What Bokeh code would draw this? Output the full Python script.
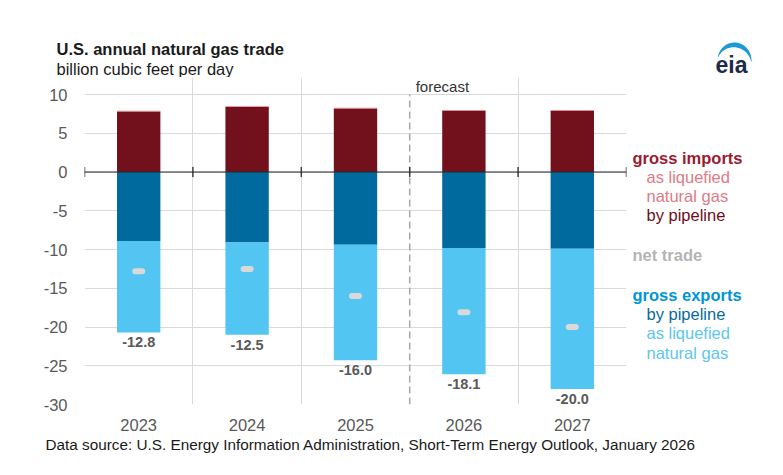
import numpy as np
from bokeh.plotting import figure
from bokeh.layouts import column, row
from bokeh.models import Range1d, FixedTicker, Span
from bokeh.embed import file_html
from bokeh.resources import INLINE
from bokeh.core.properties import value

# ---------------- data (billion cubic feet per day) ----------------
years = ["2023", "2024", "2025", "2026", "2027"]
imports_pipeline = [7.8, 8.4, 8.2, 7.9, 7.9]
imports_lng = [0.1, 0.1, 0.1, 0.1, 0.1]
exports_pipeline = [8.9, 9.1, 9.4, 9.8, 9.9]
exports_lng = [11.8, 11.9, 14.9, 16.3, 18.1]
y_ticks = [10, 5, 0, -5, -10, -15, -20, -25, -30]
forecast_start = "2026"

title = "U.S. annual natural gas trade"
subtitle = "billion cubic feet per day"
source = "Data source: U.S. Energy Information Administration, Short-Term Energy Outlook, January 2026"

# ---------------- derived ----------------
n = len(years)
xc = np.arange(n) + 0.5
ip = np.array(imports_pipeline)
il = np.array(imports_lng)
ep = np.array(exports_pipeline)
el = np.array(exports_lng)
gross_imp = ip + il
gross_exp = ep + el
net = gross_imp - gross_exp
f_idx = years.index(forecast_start)
y_lo, y_hi = min(y_ticks), max(y_ticks)

FONT = "Liberation Sans"
C_IMP_PIPE = "#72101c"
C_IMP_LNG = "#e07a86"
C_EXP_PIPE = "#006a9e"
C_EXP_LNG = "#52c5f2"
GRID = "#d9d9d9"
FS = "16.5px"

# ---------------- layout geometry (page pixels) ----------------
W = 767
TOP_H = 77                  # header strip
MAIN_W = 628                # main chart width (frame 84..626)
PX_PER_UNIT = 7.75
HEAD = 17                   # room above the top gridline for "forecast"
FH = int(round((y_hi - y_lo) * PX_PER_UNIT)) + HEAD
BB = 30
MAIN_H = FH + BB
BOT_H = 25


def helper(x0, y0, w, h, bt=0, bb=0):
    f = figure(width=w, height=h,
               x_range=Range1d(x0, x0 + w), y_range=Range1d(y0 + h - bb, y0 + bt),
               x_axis_location=None, y_axis_location=None,
               output_backend="svg", toolbar_location=None,
               min_border=0, min_border_left=0, min_border_right=0,
               min_border_top=bt, min_border_bottom=bb)
    f.outline_line_color = None
    f.xgrid.grid_line_color = None
    f.ygrid.grid_line_color = None
    f.background_fill_color = "white"
    f.border_fill_color = "white"
    return f


def txt(f, X, Y, text, color="#1a1a1a", size=FS, style="normal", align="left"):
    f.text(x=[X], y=[Y], text=[text], text_font=value(FONT), text_font_size=size,
           text_font_style=style, text_color=color, text_baseline="middle",
           text_align=align)


# ---------------- main chart ----------------
p = figure(width=MAIN_W, height=MAIN_H,
           x_range=Range1d(0, n), y_range=Range1d(y_lo, y_hi + HEAD / PX_PER_UNIT),
           output_backend="svg", toolbar_location=None,
           min_border_left=84, min_border_right=MAIN_W - 626,
           min_border_top=0, min_border_bottom=BB)
p.outline_line_color = None
p.background_fill_color = "white"
p.border_fill_color = "white"

p.yaxis.ticker = FixedTicker(ticks=y_ticks)
p.yaxis.major_label_overrides = {t: str(t) for t in y_ticks}
p.yaxis.axis_line_color = None
p.yaxis.major_tick_line_color = None
p.yaxis.minor_tick_line_color = None
p.yaxis.major_label_standoff = 11
p.xaxis.ticker = FixedTicker(ticks=list(xc))
p.xaxis.major_label_overrides = {float(x): y for x, y in zip(xc, years)}
p.xaxis.axis_line_color = None
p.xaxis.major_tick_line_color = None
p.xaxis.minor_tick_line_color = None
p.xaxis.major_label_standoff = 8
for ax in (p.xaxis, p.yaxis):
    ax.major_label_text_font = FONT
    ax.major_label_text_font_size = FS
    ax.major_label_text_color = "#595959"

p.ygrid.ticker = FixedTicker(ticks=y_ticks)
p.ygrid.grid_line_color = GRID
p.xgrid.ticker = FixedTicker(ticks=[i for i in range(0, n + 1) if i != f_idx])
p.xgrid.bounds = (y_lo, y_hi)
p.xgrid.grid_line_color = GRID

# forecast divider and label
p.segment(x0=[f_idx], y0=[y_lo], x1=[f_idx], y1=[y_hi],
          line_color="#a6a6a6", line_width=1.5, line_dash="7 4")
p.text(x=[f_idx], y=[y_hi], text=["forecast"], x_offset=6, y_offset=-8,
       text_baseline="middle", text_align="left", text_font=value(FONT),
       text_font_size="15px", text_color="#333333")

bw = 0.4
p.vbar(x=xc, bottom=0, top=ip, width=bw, fill_color=C_IMP_PIPE, line_color=None)
p.vbar(x=xc, bottom=ip, top=gross_imp, width=bw, fill_color=C_IMP_LNG, line_color=None)
p.vbar(x=xc, bottom=0, top=-ep, width=bw, fill_color=C_EXP_PIPE, line_color=None)
p.vbar(x=xc, bottom=-ep, top=-gross_exp, width=bw, fill_color=C_EXP_LNG, line_color=None)

p.add_layout(Span(location=0, dimension="width", line_color="#262626", line_width=1.2))
p.scatter(x=np.arange(n + 1), y=np.zeros(n + 1), marker="dash", angle=np.pi / 2,
          size=10, line_color="#404040", line_width=1.5)

p.rect(x=xc, y=net, width=13, height=6, width_units="screen", height_units="screen",
       fill_color="#d9d9d9", line_color=None, border_radius=3)
p.text(x=xc, y=-gross_exp, text=[f"{v:.1f}" for v in net],
       text_align="center", text_baseline="top", y_offset=5,
       text_font=value(FONT), text_font_style="bold", text_font_size="14.5px",
       text_color="#595959")

# ---------------- header ----------------
top = helper(0, 0, W, TOP_H)
txt(top, 56, 48, title, style="bold")
txt(top, 56, 68.5, subtitle)
txt(top, 731, 64, "eia", color="#1e2a4a", size="23px", style="bold", align="center")
s = np.linspace(0, 1, 40)
th = np.deg2rad(170 - s * 175)
thick = 4.5 * np.sin(np.pi * s) + 0.3
cx, cy, rx, ry = 734, 60, 17, 18
ox = cx + rx * np.cos(th)
oy = cy - ry * np.sin(th)
ix = cx + (rx - thick) * np.cos(th)
iy = cy - (ry - thick) * np.sin(th)
top.patch(x=np.concatenate([ox, ix[::-1]]), y=np.concatenate([oy, iy[::-1]]),
          fill_color="#1a9ad6", line_color=None)

# ---------------- legend panel ----------------
leg = helper(MAIN_W, TOP_H, W - MAIN_W, MAIN_H, bt=0, bb=BB)
txt(leg, 632, 157, "gross imports", color="#9b1b30", style="bold")
txt(leg, 646, 176, "as liquefied", color=C_IMP_LNG)
txt(leg, 646, 195, "natural gas", color=C_IMP_LNG)
txt(leg, 646, 214, "by pipeline", color="#6e0e1a")
txt(leg, 632, 254, "net trade", color="#b4b4b4", style="bold")
txt(leg, 632, 294, "gross exports", color="#0096d6", style="bold")
txt(leg, 646, 313, "by pipeline", color="#0a6a9a")
txt(leg, 646, 332, "as liquefied", color="#5cc6ee")
txt(leg, 646, 352, "natural gas", color="#5cc6ee")

# ---------------- footer ----------------
bot = helper(0, TOP_H + MAIN_H, W, BOT_H)
txt(bot, 45, 444, source, size="15.3px")

layout = column(top, row(p, leg, spacing=0), bot, spacing=0)
open("out.html", "w").write(file_html(layout, INLINE))
